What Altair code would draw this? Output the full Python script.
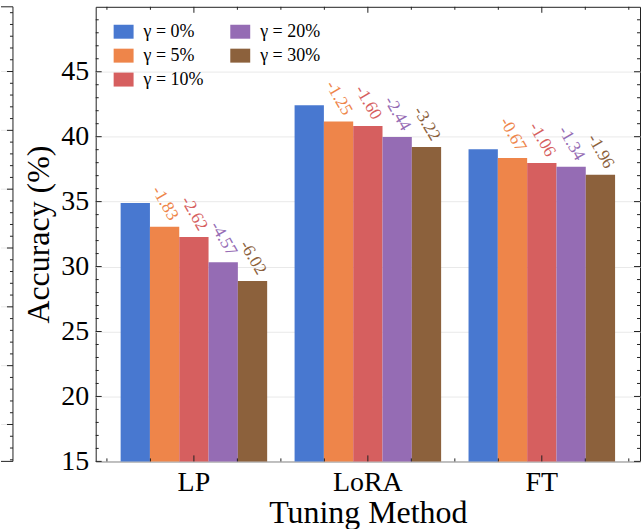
import altair as alt
import pandas as pd

# ---------------- data ----------------
methods = ["LP", "LoRA", "FT"]
gammas = ["γ = 0%", "γ = 5%", "γ = 10%", "γ = 20%", "γ = 30%"]
colors = ["#4878d0", "#ee854a", "#d65f5f", "#956cb4", "#8c613c"]

acc_lp = [34.90, 33.07, 32.28, 30.33, 28.88]
acc_lora = [42.42, 41.17, 40.82, 39.98, 39.20]
acc_ft = [39.03, 38.36, 37.97, 37.69, 37.07]

drop_lp = ["", "-1.83", "-2.62", "-4.57", "-6.02"]
drop_lora = ["", "-1.25", "-1.60", "-2.44", "-3.22"]
drop_ft = ["", "-0.67", "-1.06", "-1.34", "-1.96"]

y_major = [15, 20, 25, 30, 35, 40, 45]
y_minor = [16, 17, 18, 19, 21, 22, 23, 24, 26, 27, 28, 29, 31, 32, 33, 34,
           36, 37, 38, 39, 41, 42, 43, 44, 46, 47, 48, 49]
x_major = [0, 1, 2]
x_minor = [-0.5, -0.25, 0.25, 0.5, 0.75, 1.25, 1.5, 1.75, 2.25, 2.5]

# neighbouring (cropped) panel on the far left
nb_grid = [10, 20, 30, 40, 50, 60, 70]
nb_minor = [4, 6, 8, 12, 14, 16, 18, 22, 24, 26, 28, 32, 34, 36, 38, 42, 44, 46, 48,
            52, 54, 56, 58, 62, 64, 66, 68, 72, 74, 76, 78, 80]

rows = []
for m, accs, drops in zip(methods, [acc_lp, acc_lora, acc_ft], [drop_lp, drop_lora, drop_ft]):
    for g, a, d in zip(gammas, accs, drops):
        rows.append({"method": m, "gamma": g, "acc": a, "drop": d})
df = pd.DataFrame(rows)

# ---------------- layout ----------------
W, H = 546, 456
FONT = "Liberation Serif"
INK = "#222222"

yscale = alt.Scale(domain=[15, 50], nice=False, zero=False)
xband = alt.Scale(domain=methods, paddingInner=0.1576, paddingOuter=0.1433)
xq = alt.Scale(domain=[-0.5645, 2.5645], nice=False, zero=False)
off_scale = alt.Scale(domain=gammas, paddingInner=0, paddingOuter=0)
color_scale = alt.Scale(domain=gammas, range=colors)

bars = alt.Chart(df).mark_bar(strokeWidth=0, clip=True).encode(
    x=alt.X("method:N", sort=methods, scale=xband,
            axis=alt.Axis(title="Tuning Method", ticks=False, domain=False, grid=False,
                          labelAngle=0, labelFontSize=28, labelPadding=7,
                          titleFontSize=32, titlePadding=1)),
    xOffset=alt.XOffset("gamma:N", sort=gammas, scale=off_scale),
    y=alt.Y("acc:Q", scale=yscale,
            axis=alt.Axis(title="Accuracy (%)", values=y_major, ticks=False, domain=False,
                          grid=True, gridColor="#e9e9e9", gridWidth=1,
                          labelFontSize=28, labelPadding=7,
                          titleFontSize=32, titleX=-47, titleY=H / 2, titleAngle=270,
                          titleAlign="center", titleBaseline="alphabetic")),
    color=alt.Color("gamma:N", scale=color_scale,
                    legend=alt.Legend(title=None, orient="none", legendX=18, legendY=15,
                                      columns=2, columnPadding=26, rowPadding=5,
                                      labelOffset=10, padding=0,
                                      labelFont=FONT, labelFontSize=18, labelColor="black",
                                      symbolType="M-1,-0.7L1,-0.7L1,0.7L-1,0.7Z",
                                      symbolSize=400, symbolStrokeWidth=0,
                                      symbolOpacity=1)),
)

labels = alt.Chart(df).transform_filter("datum.drop != ''").mark_text(
    angle=60, align="right", baseline="middle", dx=-2, dy=-12, font=FONT, fontSize=17.5
).encode(
    x=alt.X("method:N", sort=methods, scale=xband, axis=None),
    xOffset=alt.XOffset("gamma:N", sort=gammas, scale=off_scale),
    y=alt.Y("acc:Q", scale=yscale, axis=None),
    text="drop:N",
    color=alt.Color("gamma:N", scale=color_scale, legend=None),
)

ymaj = pd.DataFrame({"v": y_major})
ymin = pd.DataFrame({"v": y_minor})
xmaj = pd.DataFrame({"v": x_major})
xmin = pd.DataFrame({"v": x_minor})


def ytick(data, x0, x1):
    return alt.Chart(data).mark_rule(color=INK, strokeWidth=1).encode(
        y=alt.Y("v:Q", scale=yscale, axis=None), x=alt.value(x0), x2=alt.value(x1))


def xtick(data, y0, y1):
    return alt.Chart(data).mark_rule(color=INK, strokeWidth=1).encode(
        x=alt.X("v:Q", scale=xq, axis=None), y=alt.value(y0), y2=alt.value(y1))


ticks = [
    ytick(ymaj, 0, 6), ytick(ymin, 0, 3), ytick(ymaj, W - 6, W), ytick(ymin, W - 3, W),
    xtick(xmaj, H, H - 6), xtick(xmin, H, H - 3), xtick(xmaj, 0, 6), xtick(xmin, 0, 3),
]

# cropped neighbour panel at the far left
nb_scale = alt.Scale(domain=[3.73, 81.0], nice=False, zero=False)
one = pd.DataFrame({"a": [0]})
nb_layers = [
    alt.Chart(pd.DataFrame({"v": nb_grid})).mark_rule(color="#e9e9e9", strokeWidth=1).encode(
        y=alt.Y("v:Q", scale=nb_scale, axis=None), x=alt.value(-95), x2=alt.value(-83)),
    alt.Chart(pd.DataFrame({"v": nb_grid})).mark_rule(color=INK, strokeWidth=1).encode(
        y=alt.Y("v:Q", scale=nb_scale, axis=None), x=alt.value(-89), x2=alt.value(-83)),
    alt.Chart(pd.DataFrame({"v": nb_minor})).mark_rule(color=INK, strokeWidth=1).encode(
        y=alt.Y("v:Q", scale=nb_scale, axis=None), x=alt.value(-86), x2=alt.value(-83)),
    alt.Chart(one).mark_rule(color=INK, strokeWidth=1).encode(
        x=alt.value(-83), y=alt.value(0), y2=alt.value(H)),
    alt.Chart(one).mark_rule(color=INK, strokeWidth=1).encode(
        x=alt.value(-95), x2=alt.value(-83), y=alt.value(0)),
    alt.Chart(one).mark_rule(color=INK, strokeWidth=1).encode(
        x=alt.value(-95), x2=alt.value(-83), y=alt.value(H)),
]

chart = alt.layer(bars, labels, *ticks, *nb_layers).resolve_scale(
    x="independent", y="independent"
).properties(
    width=W, height=H,
    padding={"left": 0, "top": 5, "right": 0, "bottom": 0},
).configure_view(
    stroke=INK, strokeWidth=1
).configure_axis(
    labelFont=FONT, titleFont=FONT, labelColor="black", titleColor="black",
    titleFontWeight="normal"
).configure_legend(
    labelFont=FONT, labelFontSize=18, labelColor="black"
)

chart.save("out.html", embed_options={"renderer": "svg", "actions": False})
